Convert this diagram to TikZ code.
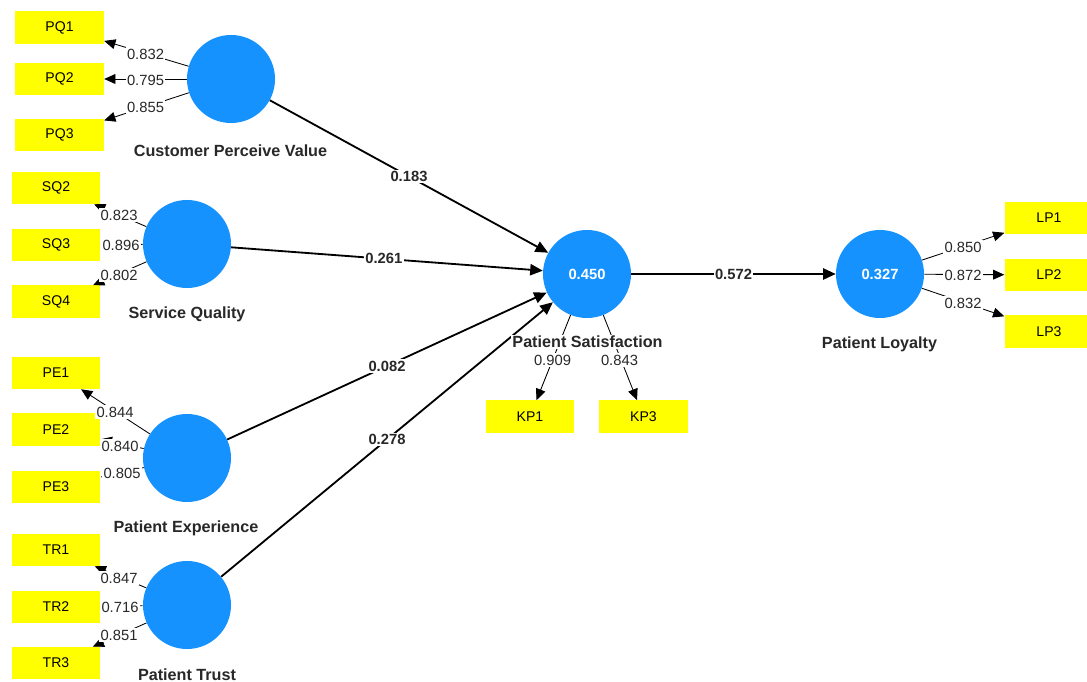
\documentclass[tikz,border=0pt]{standalone}
\usepackage{fontspec}
\setmainfont{Liberation Sans}
\usetikzlibrary{arrows.meta}
\definecolor{lvblue}{RGB}{22,146,255}
\definecolor{mvyellow}{RGB}{255,255,0}
\definecolor{txtgray}{RGB}{40,40,40}
\begin{document}
\begin{tikzpicture}[x=0.025cm,y=-0.025cm,
  lv/.style={circle, fill=lvblue, minimum size=2.2cm, inner sep=0pt, text=white, font=\bfseries\fontsize{10.5}{12}\selectfont},
  mv/.style={rectangle, fill=mvyellow, minimum width=2.22cm, minimum height=0.8cm, inner sep=0pt, font=\fontsize{10}{12}\selectfont},
  sarrow/.style={line width=1.3pt, -{Triangle[length=9pt,width=8pt]}},
  larrow/.style={line width=0.6pt, -{Triangle[length=8pt,width=7pt]}},
  coef/.style={fill=white, inner sep=1pt, font=\bfseries\fontsize{10.5}{12}\selectfont, text=txtgray},
  load/.style={fill=white, inner sep=1pt, font=\fontsize{10.5}{12}\selectfont, text=txtgray},
  lvname/.style={fill=white, inner sep=1pt, font=\bfseries\fontsize{11.5}{13}\selectfont, text=txtgray}]
\useasboundingbox (0,0) rectangle (1087,682);
\clip (0,0) rectangle (1087,682);
\fill[white] (0,0) rectangle (1087,682);

% latent variables
\node[lv] (cpv) at (231,79) {};
\node[lv] (sq) at (187,244) {};
\node[lv] (pe) at (187,458) {};
\node[lv] (tr) at (187,605) {};
\node[lv] (ps) at (587,274) {0.450};
\node[lv] (pl) at (880,274) {0.327};

% indicators
\node[mv] (pq1) at (59.5,27.5) {PQ1};
\node[mv] (pq2) at (59.5,79) {PQ2};
\node[mv] (pq3) at (59.5,135) {PQ3};
\node[mv] (sq2) at (56,188) {SQ2};
\node[mv] (sq3) at (56,245) {SQ3};
\node[mv] (sq4) at (56,301.5) {SQ4};
\node[mv] (pe1) at (56,373) {PE1};
\node[mv] (pe2) at (56,429.5) {PE2};
\node[mv] (pe3) at (56,487) {PE3};
\node[mv] (tr1) at (56,550) {TR1};
\node[mv] (tr2) at (56,607) {TR2};
\node[mv] (tr3) at (56,663) {TR3};
\node[mv] (kp1) at (530,416.5) {KP1};
\node[mv] (kp3) at (643.5,416.5) {KP3};
\node[mv] (lp1) at (1049,218) {LP1};
\node[mv] (lp2) at (1049,275) {LP2};
\node[mv] (lp3) at (1049,331.5) {LP3};

% loading arrows
\foreach \a/\b in {cpv/pq1,cpv/pq2,cpv/pq3,sq/sq2,sq/sq3,sq/sq4,pe/pe1,pe/pe2,pe/pe3,tr/tr1,tr/tr2,tr/tr3,ps/kp1,ps/kp3,pl/lp1,pl/lp2,pl/lp3}
  \draw[larrow] (\a) -- (\b);

% structural paths
\draw[sarrow] (cpv) -- (ps) node[coef, pos=0.5] {0.183};
\draw[sarrow] (sq) -- (ps) node[coef, pos=0.49] {0.261};
\draw[sarrow] (pe) -- (ps) node[coef, pos=0.5] {0.082};
\draw[sarrow] (tr) -- (ps) node[coef, pos=0.5] {0.278};
\draw[sarrow] (ps) -- (pl) node[coef, pos=0.5] {0.572};

% latent names
\node[lvname] (ncpv) at (230.5,151) {Customer Perceive Value};
\node[lvname] (nsq) at (187,314) {Service Quality};
\node[lvname] (npe) at (186,528) {Patient Experience};
\node[lvname] (ntr) at (187,675) {Patient Trust};
\node[lvname] (nps) at (587.5,342) {Patient Satisfaction};
\node[lvname] (npl) at (879.5,344) {Patient Loyalty};

% loadings
\node[load] (l1) at (145.5,54) {0.832};
\node[load] (l2) at (145.5,80) {0.795};
\node[load] (l3) at (145.5,107) {0.855};
\node[load] (l4) at (119,215) {0.823};
\node[load] (l5) at (121,245) {0.896};
\node[load] (l6) at (119,275) {0.802};
\node[load] (l7) at (115,412) {0.844};
\node[load] (l8) at (120,446) {0.840};
\node[load] (l9) at (122,473) {0.805};
\node[load] (l10) at (119,578) {0.847};
\node[load] (l11) at (120,607) {0.716};
\node[load] (l12) at (119,635) {0.851};
\node[load] (l13) at (552.5,360) {0.909};
\node[load] (l14) at (619.5,360) {0.843};
\node[load] (l15) at (963,247) {0.850};
\node[load] (l16) at (963,275) {0.872};
\node[load] (l17) at (963,303) {0.832};
\end{tikzpicture}
\end{document}
